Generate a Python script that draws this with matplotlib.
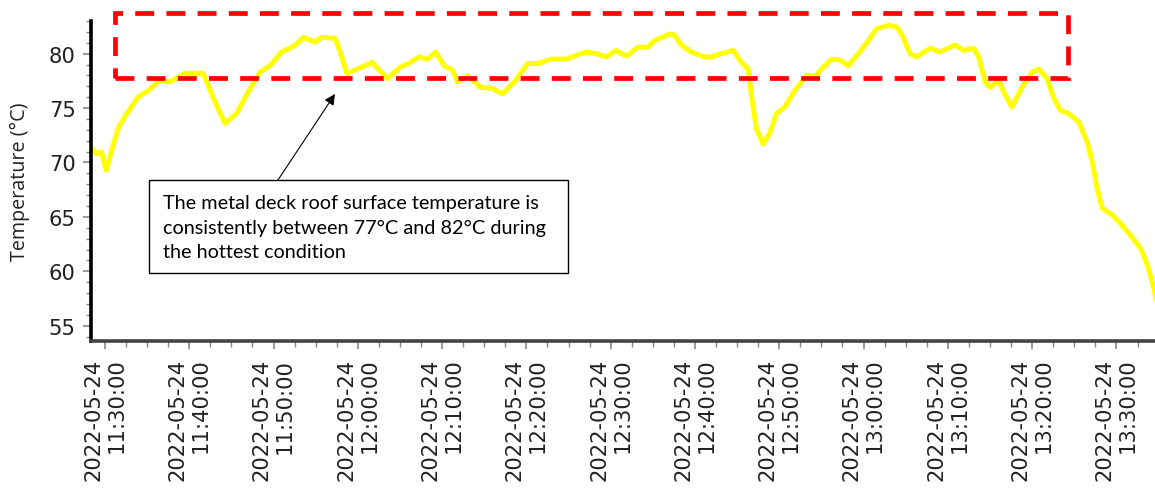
import matplotlib
matplotlib.use("Agg")
import matplotlib.pyplot as plt
import matplotlib.dates as mdates
from matplotlib.patches import Rectangle
from matplotlib.ticker import MultipleLocator
import pandas as pd

# minutes after 11:30:00 and surface temperature (deg C)
minutes = [-1.63, -1.03, -0.44, 0.15, 0.75, 1.55, 2.34, 3.92, 5.11, 6.50,
           7.69, 9.48, 11.65, 13.04, 14.23, 15.61, 17.00, 18.39, 19.58, 20.96,
           22.56, 23.54, 24.93, 25.72, 27.31, 27.91, 28.69, 29.69, 31.71, 33.50,
           35.08, 36.06, 37.25, 38.25, 39.24, 40.23, 41.22, 41.82, 43.01, 44.59,
           45.98, 47.17, 48.75, 50.14, 51.52, 52.91, 54.70, 57.07, 58.26, 59.45,
           60.64, 61.63, 62.03, 63.22, 64.41, 65.20, 66.98, 67.58, 68.37, 69.56,
           71.14, 71.94, 73.13, 74.52, 75.51, 76.30, 76.69, 77.29, 78.08, 78.87,
           79.67, 80.65, 81.84, 83.23, 84.22, 85.02, 86.21, 87.19, 88.19, 89.38,
           90.57, 91.56, 92.95, 93.94, 94.53, 95.52, 96.31, 97.90, 99.08, 100.87,
           101.87, 103.06, 103.65, 104.44, 105.03, 106.03, 106.81, 107.61, 108.80, 109.99,
           110.78, 111.77, 112.57, 113.35, 114.35, 115.54, 116.53, 117.12, 117.72, 118.31,
           119.50, 120.49, 121.68, 122.87, 123.66, 124.46, 124.85]
temps = [71.4, 70.8, 71.0, 69.3, 71.0, 73.1, 74.2, 76.0, 76.6, 77.55,
         77.4, 78.2, 78.2, 75.6, 73.6, 74.5, 76.5, 78.3, 78.9, 80.15,
         80.76, 81.5, 81.07, 81.5, 81.4, 80.15, 78.2, 78.5, 79.2, 77.7,
         78.8, 79.1, 79.7, 79.5, 80.15, 78.9, 78.5, 77.4, 78.0, 76.9,
         76.8, 76.3, 77.55, 79.1, 79.1, 79.5, 79.5, 80.15, 80.0, 79.7,
         80.3, 79.85, 79.85, 80.6, 80.6, 81.2, 81.8, 81.7, 80.8, 80.15,
         79.7, 79.7, 80.0, 80.3, 79.2, 78.6, 76.2, 73.1, 71.7, 72.7,
         74.5, 75.1, 76.6, 78.0, 77.9, 78.6, 79.5, 79.4, 78.9, 80.0,
         81.2, 82.3, 82.6, 82.45, 81.8, 80.0, 79.7, 80.5, 80.15, 80.8,
         80.3, 80.5, 79.7, 77.4, 76.9, 77.55, 76.2, 75.1, 76.9, 78.3,
         78.6, 77.7, 75.9, 74.8, 74.5, 73.7, 71.9, 70.1, 67.6, 65.8,
         65.2, 64.4, 63.3, 62.1, 60.6, 58.4, 56.9]

start = pd.Timestamp("2022-05-24 11:30:00")
note = ("The metal deck roof surface temperature is\n"
        "consistently between 77\u00b0C and 82\u00b0C during\n"
        "the hottest condition")

W, H = 1155, 489
fig = plt.figure(figsize=(W / 100, H / 100), dpi=100)
ax = fig.add_axes([91 / W, 1 - 342 / H, 1 - 91 / W + 0.002, (342 - 22) / H])

times = start + pd.to_timedelta(minutes, unit="min")
ax.plot(times, temps, color="#ffff00", lw=3.6, solid_joinstyle="round")

ax.xaxis.set_major_locator(mdates.MinuteLocator(byminute=[0, 10, 20, 30, 40, 50]))
ax.xaxis.set_major_formatter(mdates.DateFormatter("%Y-%m-%d\n%H:%M:%S"))
# minor ticks every 2.5 min
minor = pd.date_range(start - pd.Timedelta(minutes=30), periods=80, freq="150s")
ax.set_xticks(minor, minor=True)
ax.yaxis.set_major_locator(MultipleLocator(5))
ax.yaxis.set_minor_locator(MultipleLocator(1))

ax.set_xlim(start - pd.Timedelta(minutes=1.66), start + pd.Timedelta(minutes=124.85))
ax.set_ylim(53.6, 83.0)

for lab in ax.get_xticklabels():
    lab.set_rotation(90)
    lab.set_ha("center")
    lab.set_va("top")
    lab.set_multialignment("right")
ax.tick_params(axis="x", which="major", labelsize=15.2, length=6, width=1.2,
               color="#888888", labelcolor="#222222", pad=6)
ax.tick_params(axis="x", which="minor", length=4, width=1, color="#888888")
ax.tick_params(axis="y", which="major", labelsize=15.2, length=6, width=1.2,
               color="#888888", labelcolor="#222222", pad=5)
ax.tick_params(axis="y", which="minor", length=3.5, width=1, color="#888888")

for s in ["top", "right"]:
    ax.spines[s].set_visible(False)
ax.spines["left"].set_linewidth(2.6)
ax.spines["left"].set_color("black")
ax.spines["bottom"].set_linewidth(2.6)
ax.spines["bottom"].set_color("#444444")

fig.text(20 / W, 1 - 182 / H, "Temperature (\u00b0C)", rotation=90, ha="center", va="center",
         fontsize=14.2, family="Open Sans", color="#222222")

# red dashed highlight box
fig.patches.append(Rectangle((115 / W, 1 - 79 / H), (1068 - 115) / W, (79 - 14) / H,
                             transform=fig.transFigure, fill=False, edgecolor="#ff0000",
                             lw=3.4, linestyle=(0, (4, 2.6))))

# annotation box and arrow
fig.patches.append(Rectangle((149 / W, 1 - 274 / H), (568 - 149) / W, (274 - 181) / H,
                             transform=fig.transFigure, fill=True, facecolor="white",
                             edgecolor="black", lw=1.0, zorder=5))
fig.text(163 / W, 1 - 228 / H, note, ha="left", va="center", fontsize=14.3,
         family="Lato", color="black", linespacing=1.5, zorder=6)
ax.annotate("", xy=(335 / W, 1 - 95 / H), xycoords="figure fraction",
            xytext=(278 / W, 1 - 181 / H), textcoords="figure fraction",
            arrowprops=dict(arrowstyle="-|>", color="black", lw=0.8, mutation_scale=16,
                            shrinkA=0, shrinkB=0))

fig.savefig("out.png", dpi=100)
